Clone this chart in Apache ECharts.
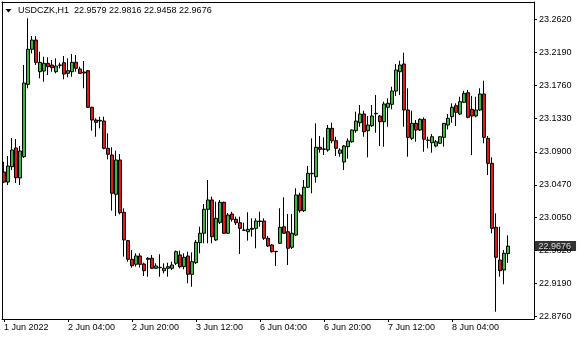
<!DOCTYPE html>
<html>
<head>
<meta charset="utf-8">
<script src="https://cdn.jsdelivr.net/npm/echarts@6/dist/echarts.min.js"></script>
<style>
html,body{margin:0;padding:0;background:#fff;}
#c{width:580px;height:340px;}
</style>
</head>
<body>
<div id="c"></div>
<script>
var symbolName = 'USDCZK,H1';
var xTickLabels = ['1 Jun 2022','2 Jun 04:00','2 Jun 20:00','3 Jun 12:00','6 Jun 04:00','6 Jun 20:00','7 Jun 12:00','8 Jun 04:00'];
var yTickValues = [22.8760, 22.9190, 22.9620, 23.0050, 23.0470, 23.0900, 23.1330, 23.1760, 23.2190, 23.2620];

var opens = [23.0638,23.0508,23.0707,23.0950,23.0560,23.0837,23.1776,23.2231,23.2351,23.1940,
23.1949,23.2049,23.2027,23.1940,23.2027,23.2057,23.1919,23.1940,23.2062,23.1975,
23.1936,23.1953,23.1478,23.1313,23.1300,23.1300,23.0946,23.0859,23.0349,23.0794,
23.0115,22.9747,22.9505,22.9440,22.9548,22.9444,22.9518,22.9518,22.9388,22.9396,
22.9357,22.9388,22.9388,22.9453,22.9561,22.9409,22.9548,22.9310,22.9461,22.9721,
22.9843,23.0154,23.0275,22.9756,22.9985,23.0245,22.9843,23.0093,23.0024,22.9980,
22.9885,22.9863,22.9894,22.9907,23.0002,23.0002,22.9778,22.9691,22.9609,22.9713,
22.9928,22.9863,22.9661,22.9820,23.0340,23.0136,23.0440,23.0616,23.0577,23.0959,
23.0933,23.0924,23.1205,23.1044,23.0881,23.0768,23.0967,23.1031,23.1174,23.1278,
23.1391,23.1174,23.1239,23.1400,23.1365,23.1291,23.1478,23.1517,23.1689,23.1940,
23.2040,23.1443,23.1075,23.1270,23.1183,23.1322,23.1053,23.1018,23.0976,23.1011,
23.1088,23.1248,23.1356,23.1499,23.1391,23.1543,23.1667,23.1452,23.1365,23.1443,
23.1651,23.1075,23.0751,22.9920,22.9496,22.9366,22.9579];

var closes = [23.0508,23.0716,23.0924,23.0564,23.0911,23.1793,23.2231,23.2351,23.2062,23.2062,
23.2049,23.2005,23.1992,23.2014,23.2023,23.1910,23.1953,23.2062,23.1984,23.1919,
23.1923,23.1478,23.1313,23.1283,23.1309,23.0946,23.0868,23.0362,23.0794,23.0110,
22.9756,22.9505,22.9422,22.9548,22.9440,22.9357,22.9505,22.9388,22.9418,22.9401,
22.9388,22.9409,22.9431,22.9604,22.9409,22.9531,22.9310,22.9474,22.9726,22.9843,
23.0154,23.0275,22.9798,23.0037,23.0245,22.9843,23.0080,23.0024,22.9980,22.9907,
22.9881,22.9894,22.9907,23.0002,22.9996,22.9778,22.9678,22.9604,22.9604,22.9920,
22.9843,22.9648,22.9843,23.0340,23.0136,23.0440,23.0621,23.0621,23.0959,23.0933,
23.0937,23.1205,23.1044,23.0946,23.0924,23.0976,23.1041,23.1183,23.1300,23.1391,
23.1161,23.1248,23.1365,23.1395,23.1291,23.1521,23.1530,23.1689,23.1962,23.2027,
23.1443,23.1088,23.1270,23.1183,23.1322,23.1063,23.1049,23.1096,23.1031,23.1096,
23.1270,23.1335,23.1478,23.1413,23.1551,23.1660,23.1348,23.1365,23.1443,23.1651,
23.1088,23.0751,22.9907,22.9531,22.9357,22.9583,22.9676];

var highs = [23.0772,23.0846,23.1079,23.1066,23.0976,23.2027,23.2633,23.2403,23.2403,23.2200,
23.2135,23.2127,23.2092,23.2114,23.2057,23.2144,23.2114,23.2170,23.2157,23.2005,
23.2079,23.1962,23.1486,23.1335,23.1356,23.1356,23.1140,23.0959,23.0915,23.0872,
23.0167,22.9756,22.9626,22.9583,22.9583,22.9461,22.9531,22.9561,22.9453,22.9570,
22.9453,22.9461,22.9474,22.9619,22.9617,22.9583,22.9604,22.9596,22.9756,22.9928,
23.0223,23.0534,23.0318,23.0253,23.0275,23.0253,23.0106,23.0123,23.0058,23.0058,
22.9980,23.0115,23.0037,23.0037,23.0123,23.0037,22.9808,22.9704,22.9613,23.0167,
23.0310,23.0093,23.0093,23.0427,23.0369,23.0534,23.0716,23.1075,23.1270,23.1105,
23.1088,23.1248,23.1278,23.1096,23.0946,23.0989,23.1075,23.1192,23.1421,23.1508,
23.1434,23.1365,23.1508,23.1638,23.1378,23.1551,23.1595,23.1745,23.2040,23.2083,
23.2187,23.1725,23.1434,23.1313,23.1335,23.1348,23.1096,23.1131,23.1053,23.1105,
23.1274,23.1391,23.1530,23.1530,23.1615,23.1693,23.1702,23.1625,23.1615,23.1725,
23.1823,23.1105,23.0829,23.0102,22.9928,22.9626,22.9816];

var lows = [23.0495,23.0469,23.0664,23.0495,23.0469,23.0820,23.1725,23.2179,23.2027,23.1854,
23.1810,23.1897,23.1940,23.1919,23.1984,23.1841,23.1867,23.1875,23.1940,23.1910,
23.1725,23.1469,23.1174,23.1096,23.1205,23.0933,23.0803,23.0136,23.0067,23.0089,
22.9539,22.9474,22.9396,22.9409,22.9396,22.9288,22.9279,22.9379,22.9379,22.9279,
22.9323,22.9279,22.9366,22.9431,22.9388,22.9375,22.9194,22.9149,22.9444,22.9583,
22.9713,22.9713,22.9713,22.9743,22.9963,22.9833,22.9833,22.9993,22.9950,22.9574,
22.9876,22.9747,22.9798,22.9648,22.9928,22.9756,22.9665,22.9593,22.9418,22.9704,
22.9833,22.9431,22.9639,22.9808,23.0110,23.0119,23.0430,23.0362,23.0499,23.0889,
23.0859,23.0902,23.1011,23.0846,23.0837,23.0664,23.0811,23.1018,23.1148,23.1226,
23.1096,23.0829,23.1222,23.1148,23.0976,23.0967,23.1226,23.1452,23.1625,23.1638,
23.1226,23.0837,23.1053,23.1031,23.1170,23.0902,23.0946,23.0889,23.0959,23.1002,
23.0967,23.1192,23.1278,23.1235,23.1378,23.1534,23.1335,23.0859,23.1348,23.1430,
23.1011,23.0599,22.9843,22.8825,22.9279,22.9181,22.9458];

var BAR_STEP = 16;
var SLOTS = 133;
var FONT = '"Liberation Sans", Arial, sans-serif';

var cats = [];
for (var k = 0; k < SLOTS; k++) cats.push(String(k));
var candleData = opens.map(function (o, i) { return [o, closes[i], lows[i], highs[i]]; });
var last = opens.length - 1;
var headText = symbolName + '  ' + opens[last].toFixed(4) + ' ' + highs[last].toFixed(4) + ' ' +
  lows[last].toFixed(4) + ' ' + closes[last].toFixed(4);

function isTick(index) { return index % BAR_STEP === 0 && index / BAR_STEP < xTickLabels.length; }

var chart = echarts.init(document.getElementById('c'), null, {renderer: 'canvas'});
chart.setOption({
  animation: false,
  backgroundColor: '#ffffff',
  title: {
    text: headText, left: 18, top: 5, padding: 0,
    textStyle: {fontFamily: FONT, fontSize: 9, fontWeight: 'normal', color: '#000', lineHeight: 11}
  },
  graphic: [{
    type: 'polygon', shape: {points: [[5.5, 9], [11.5, 9], [8.5, 12.5]]},
    style: {fill: '#000'}
  }],
  grid: {left: 2, right: 46, top: 2, bottom: 21, show: false},
  xAxis: [{
    type: 'category', data: cats, boundaryGap: true, position: 'bottom',
    axisLine: {show: true, lineStyle: {color: '#000', width: 1}},
    axisTick: {show: true, alignWithLabel: true, interval: isTick, length: 3, lineStyle: {color: '#000'}},
    axisLabel: {
      interval: isTick, align: 'left', margin: 4, color: '#000', fontFamily: FONT, fontSize: 9,
      formatter: function (v) { return xTickLabels[Number(v) / BAR_STEP]; }
    },
    splitLine: {show: false}
  }, {
    type: 'category', data: cats, boundaryGap: true, position: 'top',
    axisLine: {show: true, onZero: false, lineStyle: {color: '#000', width: 1}},
    axisTick: {show: false}, axisLabel: {show: false}, splitLine: {show: false}
  }],
  yAxis: [{
    type: 'value', position: 'right', min: 22.8730, max: 23.2845,
    splitLine: {show: false},
    axisLine: {show: true, lineStyle: {color: '#000', width: 1}},
    axisTick: {show: true, length: 3, customValues: yTickValues, lineStyle: {color: '#000'}},
    axisLabel: {
      customValues: yTickValues, margin: 5, color: '#000', fontFamily: FONT, fontSize: 9,
      formatter: function (v) { return v.toFixed(4); }
    }
  }, {
    type: 'value', position: 'left', min: 22.8730, max: 23.2845,
    splitLine: {show: false},
    axisLine: {show: true, onZero: false, lineStyle: {color: '#000', width: 1}},
    axisTick: {show: false}, axisLabel: {show: false}
  }],
  series: [{
    type: 'candlestick',
    data: candleData,
    xAxisIndex: 0, yAxisIndex: 0,
    barWidth: 3,
    itemStyle: {
      color: '#3cb93c', color0: '#dc1a1a',
      borderColor: '#000', borderColor0: '#000', borderColorDoji: '#000', borderWidth: 1
    }
  }, {
    type: 'scatter',
    xAxisIndex: 0, yAxisIndex: 0,
    data: [[String(SLOTS - 1), closes[last]]],
    symbol: 'rect', symbolSize: 1,
    itemStyle: {color: 'rgba(0,0,0,0)'},
    silent: true, z: 10,
    label: {
      show: true, position: 'right', distance: 2,
      backgroundColor: '#000', color: '#fff', padding: [0, 5, 0, 4], lineHeight: 10,
      fontFamily: FONT, fontSize: 9,
      formatter: function () { return closes[last].toFixed(4); }
    }
  }]
});
</script>
</body>
</html>
